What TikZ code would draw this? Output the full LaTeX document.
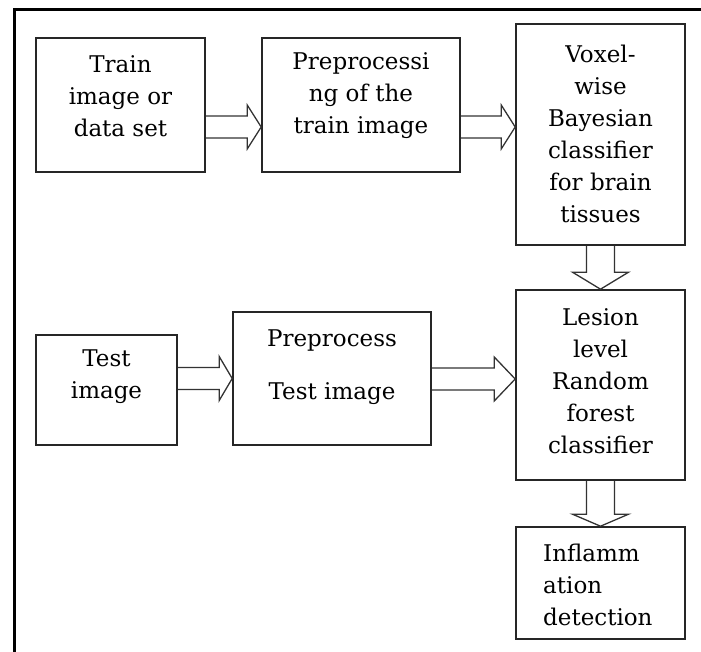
\documentclass[tikz,border=0pt]{standalone}
\usepackage{fontspec}
\setmainfont{DejaVu Serif}
\usepackage{tikz}
\usetikzlibrary{calc, positioning}

\tikzset{
  box/.style={draw=black!85, line width=1.6pt, rectangle, inner sep=0pt},
  txt/.style={inner sep=0pt, align=center, font=\fontsize{23}{32}\selectfont},
  blockarrow/.style={draw=black!80, line width=1.3pt, line join=miter}
}

% block arrows: #1 start, #2 tip, #3 head length
\newcommand{\rightblock}[3]{%
  \draw[blockarrow] ($(#1)+(0,-11)$) -- ($(#2)+(-#3,-11)$) -- ($(#2)+(-#3,-22)$)
    -- (#2) -- ($(#2)+(-#3,22)$) -- ($(#2)+(-#3,11)$) -- ($(#1)+(0,11)$);}
\newcommand{\downblock}[3]{%
  \draw[blockarrow] ($(#1)+(-14,0)$) -- ($(#2)+(-14,-#3)$) -- ($(#2)+(-28,-#3)$)
    -- (#2) -- ($(#2)+(28,-#3)$) -- ($(#2)+(14,-#3)$) -- ($(#1)+(14,0)$);}

\begin{document}
\begin{tikzpicture}[x=1pt, y=-1pt]
    \useasboundingbox (0,0) rectangle (701,652);
    \draw[line width=3pt] (14,652) -- (14,10) -- (701,10);

    % upper row
    \node[box, minimum width=169pt, minimum height=134pt] (train) at (120.5,105) {};
    \node[box, minimum width=198pt, minimum height=134pt] (trainprep) at (361,105) {};
    \node[box, minimum width=169pt, minimum height=221pt] (bayes) at (600.5,134.5) {};

    \node[txt] (train-t) at (120.5,96) {Train\\image or\\data set};
    \node[txt] (trainprep-t) at (361,96) {Preprocessi\\ng of the\\train image};
    \node[txt] (bayes-t) at (600.5,134) {Voxel-\\wise\\Bayesian\\classifier\\for brain\\tissues};

    % lower rows
    \node[box, minimum width=141pt, minimum height=110pt] (test) at (106.5,390) {};
    \node[box, minimum width=198pt, minimum height=133pt] (testprep) at (332,378.5) {};
    \node[box, minimum width=169pt, minimum height=190pt] (forest) at (600.5,385) {};
    \node[box, minimum width=169pt, minimum height=112pt] (detect) at (600.5,583) {};

    \node[txt] (test-t) at (106.5,377) {Test\\image};
    \node[txt] (testprep-t) at (332,367) {Preprocess\\[21pt]Test image};
    \node[txt] (forest-t) at (600.5,381) {Lesion\\level\\Random\\forest\\classifier};
    \node[txt, align=left, anchor=west] (detect-t) at (543,585) {Inflamm\\ation\\detection};

    % arrows
    \coordinate (t1) at ([yshift=-22pt]trainprep.west);
    \coordinate (s1) at (train.east |- t1);
    \rightblock{s1}{t1}{14}
    \coordinate (t2) at ([yshift=7.5pt]bayes.west);
    \coordinate (s2) at (trainprep.east |- t2);
    \rightblock{s2}{t2}{14}
    \coordinate (t3) at (testprep.west);
    \coordinate (s3) at (test.east |- t3);
    \rightblock{s3}{t3}{13}
    \coordinate (t4) at ([yshift=6pt]forest.west);
    \coordinate (s4) at (testprep.east |- t4);
    \rightblock{s4}{t4}{21}
    \downblock{bayes.south}{forest.north}{17}
    \downblock{forest.south}{detect.north}{12}
\end{tikzpicture}
\end{document}
